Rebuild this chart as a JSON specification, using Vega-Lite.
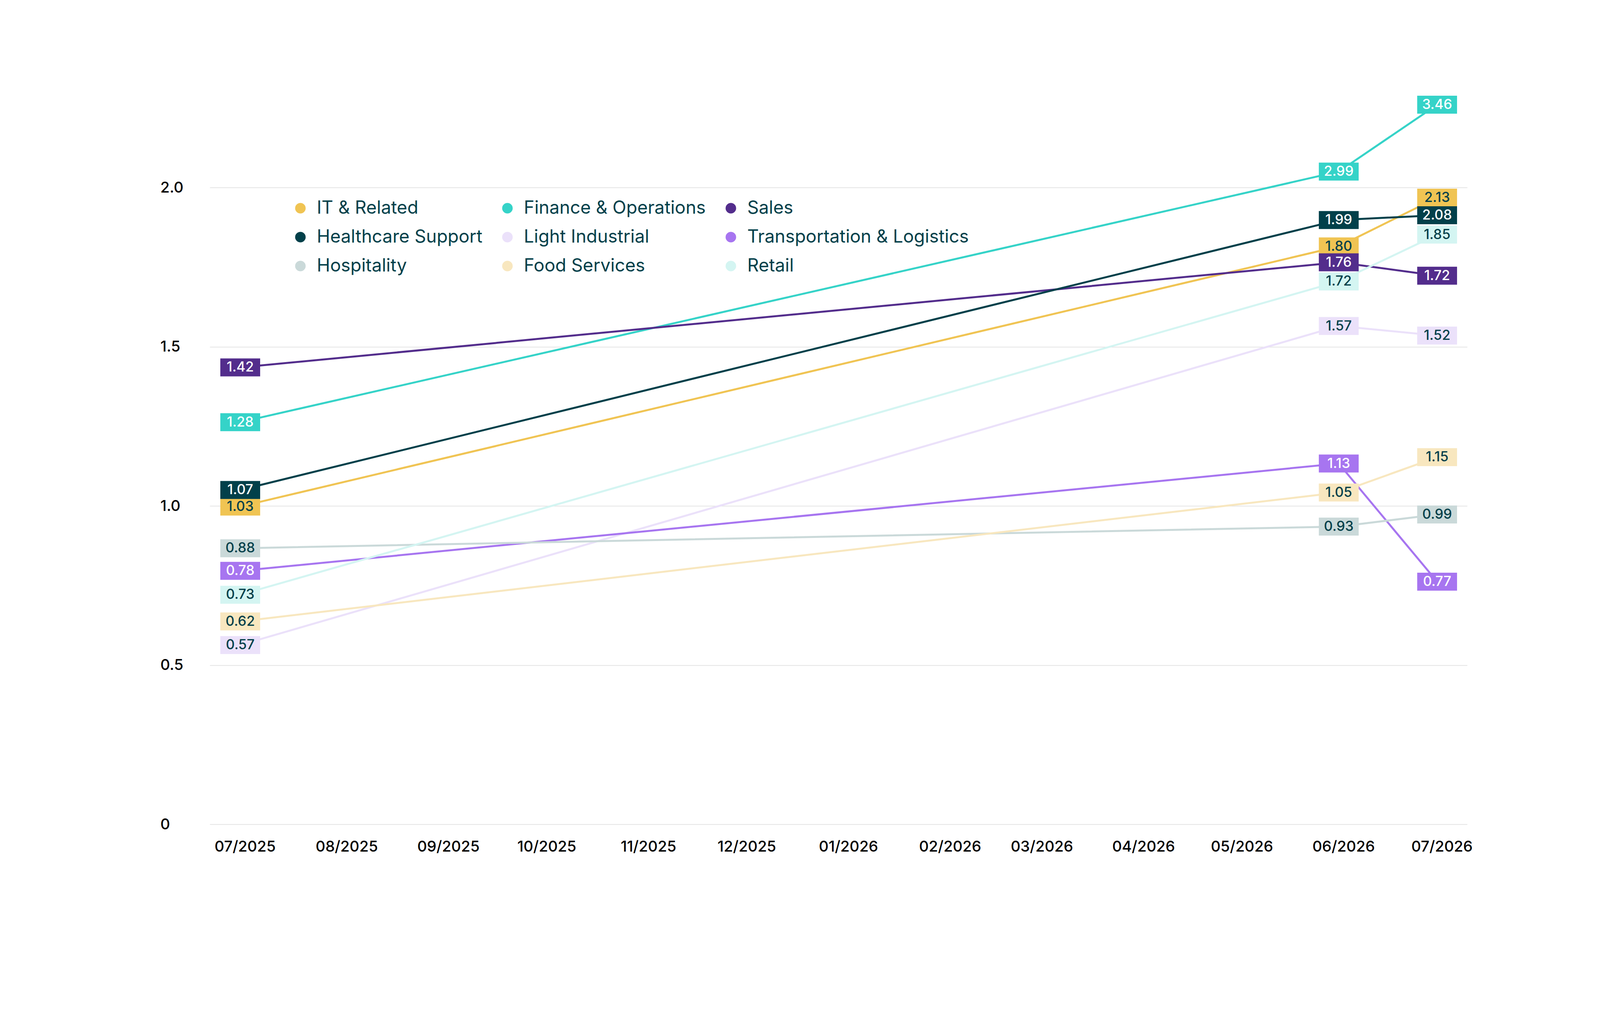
{
  "$schema": "https://vega.github.io/schema/vega-lite/v6.json",
  "width": 3219,
  "height": 1630,
  "autosize": {"type": "none"},
  "padding": {"left": 537, "top": 480, "right": 408, "bottom": 478},
  "background": "#ffffff",
  "data": {
    "values": [
      {"series": "IT & Related", "month": "2025-07-01", "value": 0.998, "label": "1.03"},
      {"series": "IT & Related", "month": "2026-06-01", "value": 1.815, "label": "1.80"},
      {"series": "IT & Related", "month": "2026-07-01", "value": 1.968, "label": "2.13"},
      {"series": "Finance & Operations", "month": "2025-07-01", "value": 1.263, "label": "1.28"},
      {"series": "Finance & Operations", "month": "2026-06-01", "value": 2.05, "label": "2.99"},
      {"series": "Finance & Operations", "month": "2026-07-01", "value": 2.26, "label": "3.46"},
      {"series": "Sales", "month": "2025-07-01", "value": 1.435, "label": "1.42"},
      {"series": "Sales", "month": "2026-06-01", "value": 1.765, "label": "1.76"},
      {"series": "Sales", "month": "2026-07-01", "value": 1.723, "label": "1.72"},
      {"series": "Healthcare Support", "month": "2025-07-01", "value": 1.05, "label": "1.07"},
      {"series": "Healthcare Support", "month": "2026-06-01", "value": 1.898, "label": "1.99"},
      {"series": "Healthcare Support", "month": "2026-07-01", "value": 1.913, "label": "2.08"},
      {"series": "Light Industrial", "month": "2025-07-01", "value": 0.563, "label": "0.57"},
      {"series": "Light Industrial", "month": "2026-06-01", "value": 1.565, "label": "1.57"},
      {"series": "Light Industrial", "month": "2026-07-01", "value": 1.535, "label": "1.52"},
      {"series": "Transportation & Logistics", "month": "2025-07-01", "value": 0.796, "label": "0.78"},
      {"series": "Transportation & Logistics", "month": "2026-06-01", "value": 1.133, "label": "1.13"},
      {"series": "Transportation & Logistics", "month": "2026-07-01", "value": 0.762, "label": "0.77"},
      {"series": "Hospitality", "month": "2025-07-01", "value": 0.867, "label": "0.88"},
      {"series": "Hospitality", "month": "2026-06-01", "value": 0.935, "label": "0.93"},
      {"series": "Hospitality", "month": "2026-07-01", "value": 0.973, "label": "0.99"},
      {"series": "Food Services", "month": "2025-07-01", "value": 0.637, "label": "0.62"},
      {"series": "Food Services", "month": "2026-06-01", "value": 1.042, "label": "1.05"},
      {"series": "Food Services", "month": "2026-07-01", "value": 1.153, "label": "1.15"},
      {"series": "Retail", "month": "2025-07-01", "value": 0.721, "label": "0.73"},
      {"series": "Retail", "month": "2026-06-01", "value": 1.705, "label": "1.72"},
      {"series": "Retail", "month": "2026-07-01", "value": 1.852, "label": "1.85"}
    ]
  },
  "encoding": {
    "x": {
      "field": "month",
      "type": "temporal",
      "title": null,
      "scale": {
        "type": "utc",
        "domain": [
          {"year": 2025, "month": 6, "date": 21, "hours": 17, "utc": true},
          {"year": 2026, "month": 7, "date": 10, "hours": 4, "utc": true}
        ]
      },
      "axis": {
        "format": "%m/%Y",
        "tickCount": "month",
        "grid": false,
        "domain": false,
        "ticks": false,
        "labelFlush": false,
        "labelOverlap": false,
        "labelPadding": 39,
        "labelOffset": 12,
        "labelFontSize": 38.5,
        "labelFontWeight": 500,
        "labelColor": "#000000"
      }
    },
    "y": {
      "field": "value",
      "type": "quantitative",
      "title": null,
      "scale": {"domain": [0, 2], "nice": false},
      "axis": {
        "values": [0, 0.5, 1, 1.5, 2],
        "labelExpr": "datum.value === 0 ? '0' : format(datum.value, '.1f')",
        "grid": true,
        "gridColor": "#dcdcdc",
        "gridWidth": 1.5,
        "domain": false,
        "ticks": false,
        "labelAlign": "left",
        "labelPadding": 127,
        "labelFontSize": 38.5,
        "labelFontWeight": 500,
        "labelColor": "#000000"
      }
    },
    "color": {
      "field": "series",
      "type": "nominal",
      "scale": {
        "domain": ["IT & Related", "Finance & Operations", "Sales", "Healthcare Support", "Light Industrial", "Transportation & Logistics", "Hospitality", "Food Services", "Retail"],
        "range": ["#F0C453", "#35D3C8", "#532D8C", "#02404A", "#EBE1FA", "#A775F0", "#CAD9D9", "#F8E7BF", "#D4F5F2"]
      },
      "legend": {
        "title": null,
        "orient": "none",
        "direction": "horizontal",
        "legendX": 209,
        "legendY": 30,
        "columns": 3,
        "symbolType": "circle",
        "symbolSize": 729,
        "labelFont": "Inter",
        "labelFontSize": 46,
        "labelColor": "#02404A",
        "labelOffset": 19,
        "labelLimit": 1000,
        "columnPadding": 41,
        "rowPadding": 28,
        "padding": 0,
        "encode": {
          "symbols": {
            "update": {
              "fill": {"scale": "color", "field": "value"},
              "stroke": {"value": "transparent"},
              "strokeWidth": {"value": 0},
              "opacity": {"value": 1},
              "shape": {"value": "circle"},
              "size": {"value": 729}
            }
          }
        }
      }
    }
  },
  "layer": [
    {
      "mark": {"type": "line", "strokeWidth": 5}
    },
    {
      "mark": {
        "type": "point",
        "shape": "M-1,-0.451L1,-0.451L1,0.451L-1,0.451Z",
        "filled": true,
        "size": 10404,
        "opacity": 1,
        "strokeWidth": 0
      }
    },
    {
      "mark": {"type": "text", "font": "Inter", "fontSize": 35, "fontWeight": 500, "align": "center", "baseline": "middle"},
      "encoding": {
        "text": {"field": "label"},
        "color": {
          "condition": {
            "test": "indexof(['Sales', 'Healthcare Support', 'Finance & Operations', 'Transportation & Logistics'], datum.series) >= 0",
            "value": "#ffffff"
          },
          "value": "#02404A"
        }
      }
    }
  ],
  "config": {
    "font": "Inter",
    "view": {"stroke": null},
    "axis": {"labelFont": "Inter"},
    "legend": {"labelFont": "Inter"}
  }
}
